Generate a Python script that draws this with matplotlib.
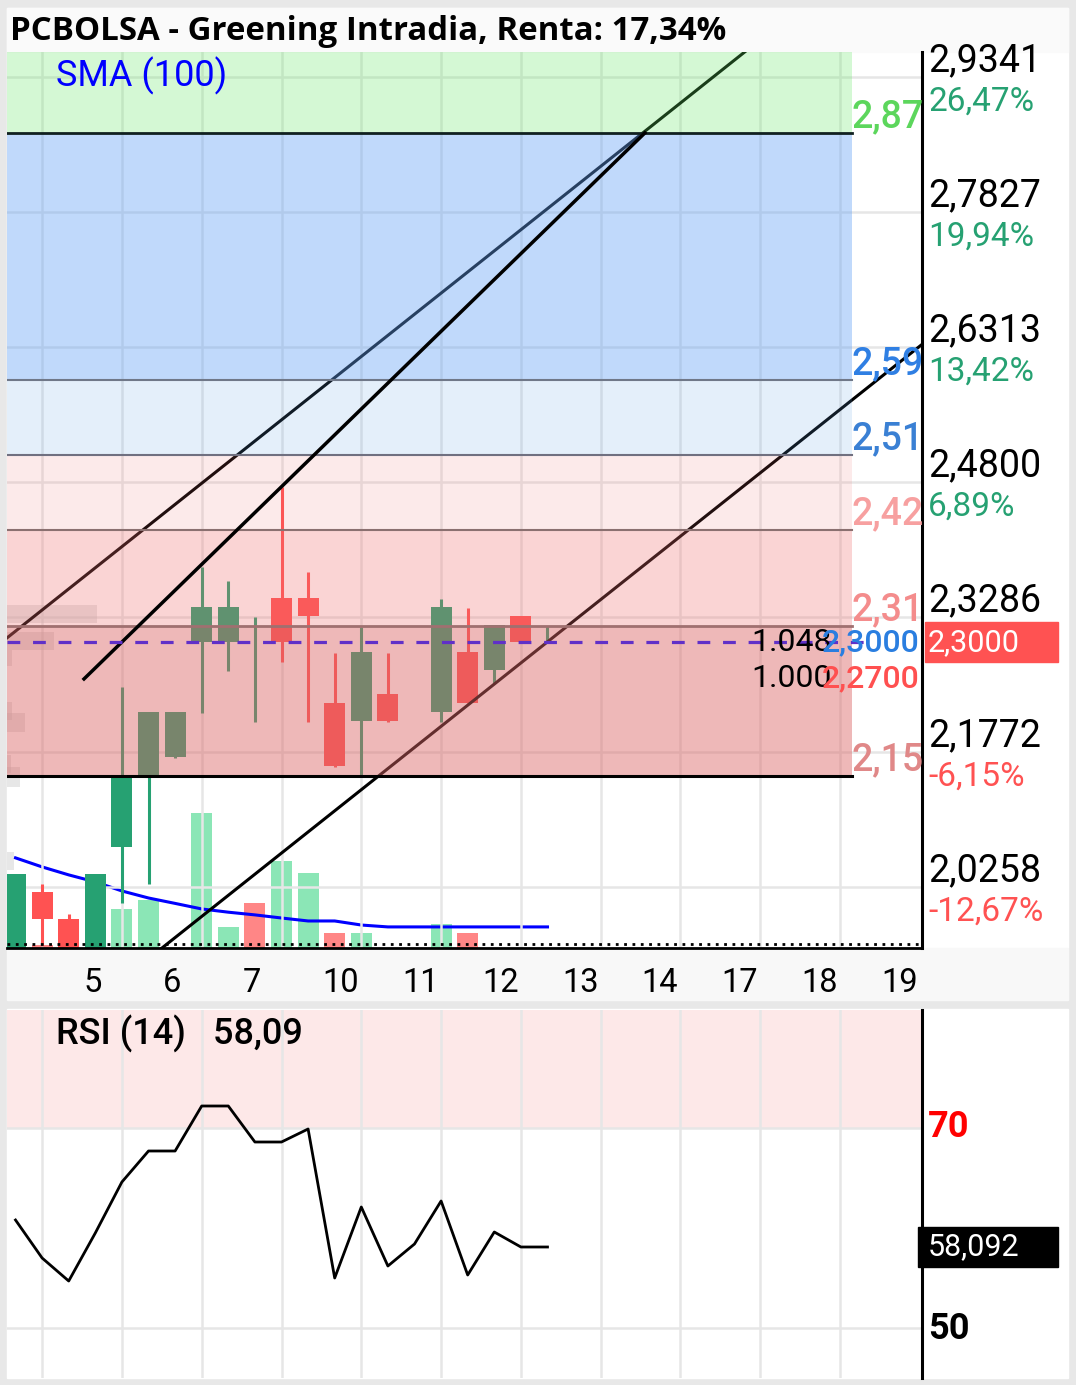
import numpy as np
import matplotlib
matplotlib.use("Agg")
import matplotlib.pyplot as plt
from matplotlib.patches import Rectangle
from matplotlib.transforms import blended_transform_factory

plt.rcParams["font.family"] = ["Roboto", "DejaVu Sans"]

W, H = 1076, 1385

# --- datos --------------------------------------------------------------
titulo = "PCBOLSA - Greening Intradia, Renta: 17,34%"
nan = np.nan
slots = np.arange(21)
opens = [1.940, 2.020, 1.990, 1.940, 2.071, 2.150, 2.172, 2.300, 2.300, 2.300, 2.350,
         2.350, 2.232, 2.212, 2.242, nan, 2.222, 2.289, 2.269, 2.330, 2.300]
highs = [2.040, 2.029, 1.996, 2.040, 2.250, 2.222, 2.222, 2.385, 2.369, 2.329, 2.474,
         2.379, 2.288, 2.317, 2.288, nan, 2.349, 2.339, 2.320, 2.330, 2.319]
lows = [1.930, 1.960, 1.950, 1.930, 2.008, 2.029, 2.171, 2.221, 2.268, 2.211, 2.278,
        2.211, 2.160, 2.150, 2.211, nan, 2.211, 2.232, 2.255, 2.300, 2.300]
closes = [2.040, 1.990, 1.955, 2.040, 2.149, 2.222, 2.222, 2.340, 2.340, 2.300, 2.300,
          2.330, 2.162, 2.289, 2.212, nan, 2.340, 2.232, 2.320, 2.300, 2.300]

volumen = [0, 22, 0, 0, 289, 356, 0, 1000, 156, 333, 644, 556, 111, 111, 0, 0, 178, 111, 0, 0, 0]
vol_sube = [1, 0, 1, 1, 1, 1, 1, 1, 1, 0, 1, 1, 0, 1, 1, 1, 1, 0, 1, 1, 1]
sma_vol = [667, 600, 541, 489, 422, 370, 330, 289, 265, 245, 222, 200, 200, 170,
           156, 156, 156, 156, 156, 156, 156]

rsi = [60.8, 57.0, 54.7, 59.5, 64.6, 67.7, 67.7, 72.2, 72.2, 68.6, 68.6, 69.9, 55.0,
       62.1, 56.2, 58.4, 62.7, 55.3, 59.6, 58.1, 58.1]

# perfil de volumen a la izquierda (precio bajo, precio alto, ancho)
perfil_lo = [2.322, 2.291, 2.274, 2.213, 2.200, 2.154, 2.138, 2.045]
perfil_hi = [2.342, 2.312, 2.291, 2.233, 2.221, 2.174, 2.160, 2.065]
perfil_w = [3.38, 1.77, 0.19, 0.19, 0.68, 0.15, 0.49, 0.26]

# zonas de objetivo / stop
niveles = [2.871, 2.594, 2.510, 2.426, 2.318, 2.150]
nivel_txt = ["2,87", "2,59", "2,51", "2,42", "2,31", "2,15"]
nivel_col = ["#5cd65c", "#2f7fe3", "#3a80d4", "#f7a0a0", "#f48c8c", "#e08888"]
zona_col = [(0.39, 0.90, 0.39), (0.39, 0.63, 0.96), (0.39, 0.63, 0.90),
            (0.94, 0.43, 0.43), (0.94, 0.43, 0.43), (0.86, 0.40, 0.40)]
zona_alpha = [0.27, 0.40, 0.17, 0.14, 0.29, 0.46]
linea_col = ["#102020", "#707888", "#707080", "#8a7070", "#a07070", "#000000"]
linea_lw = [2.0, 1.5, 1.5, 1.5, 2.0, 2.2]

# lineas de tendencia (slot, precio)
tend_a = ([-1.0, 28.0], [2.289, 2.976])
tend_b = ([2.575, 23.66], [2.2591, 2.8713])
tend_c = ([5.0, 35.0], [1.9454, 2.6560])

precio_actual = 2.30
precio_ticks = [2.9341, 2.7827, 2.6313, 2.4800, 2.3286, 2.1772, 2.0258]
pct_txt = ["26,47%", "19,94%", "13,42%", "6,89%", "", "-6,15%", "-12,67%"]
dias = ["5", "6", "7", "10", "11", "12", "13", "14", "17", "18", "19"]

VERDE, ROJO = "#26a172", "#ff5252"
VOL_VERDE, VOL_ROJO = "#85e5b2", "#ff8080"
GRID = "#e6e6e6"

XMIN, XMAX = -0.32, 34.08
YMIN, YMAX = 1.9574, 2.9621
ZONA_FIN = 31.45
grid_x = np.arange(1, 34, 3)
dias_x = 2.54 + 3 * np.arange(len(dias))


def fx(px):
    return px / W


def fy(py):
    return 1 - py / H


fig = plt.figure(figsize=(W / 100, H / 100), dpi=100, facecolor="#e8e8e8")
# fondos de los paneles
fig.patches.append(Rectangle((fx(7), fy(948)), fx(1061), 940 / H, transform=fig.transFigure,
                             color="white", zorder=-10))
fig.patches.append(Rectangle((fx(7), fy(52)), fx(1061), 44 / H, transform=fig.transFigure,
                             color="#fafafa", zorder=-9))
fig.patches.append(Rectangle((fx(7), fy(1000)), fx(1061), 52 / H, transform=fig.transFigure,
                             color="#f8f8f8", zorder=-10))
fig.patches.append(Rectangle((fx(7), fy(1378)), fx(1061), 369 / H, transform=fig.transFigure,
                             color="white", zorder=-10))

fig.text(fx(10), fy(31), titulo, fontsize=23.8, fontweight="bold", family=["Open Sans", "DejaVu Sans"],
         va="center", ha="left")

# --- panel de precio ------------------------------------------------------
ax = fig.add_axes([fx(7), fy(948), 915 / W, 896 / H])
ax_vol = ax.twinx()
ax.set_zorder(ax_vol.get_zorder() + 1)
ax.patch.set_visible(False)
ax_vol.patch.set_visible(False)

ax.set_xlim(XMIN, XMAX)
ax.set_ylim(YMIN, YMAX)
ax_vol.set_ylim(0, 6630)

# volumen
for k, v, up in zip(slots, volumen, vol_sube):
    if v > 0:
        ax_vol.bar(k, v, width=0.79, color=VOL_VERDE if up else VOL_ROJO, alpha=0.95, zorder=1)
ax_vol.plot(slots, sma_vol, color="#0000ff", lw=2.2, zorder=3)
ax_vol.set_yticks([])
for s in ax_vol.spines.values():
    s.set_visible(False)

ax.set_axisbelow(True)
ax.set_yticks(precio_ticks)
ax.set_xticks(grid_x)
ax.grid(True, which="major", color=GRID, lw=1.8)
ax.set_xticks(dias_x, labels=dias, minor=True)
ax.tick_params(which="both", length=0, labelleft=False, labelright=False)
ax.tick_params(which="major", labelbottom=False)
ax.tick_params(which="minor", labelsize=23.5, pad=14)
for lab in ax.get_xticklabels(minor=True):
    lab.set_horizontalalignment("left")
for nombre in ["top", "left"]:
    ax.spines[nombre].set_visible(False)
ax.spines["right"].set_linewidth(2.2)
ax.spines["bottom"].set_linewidth(2.0)
ax.plot([0, 1], [0.004, 0.004], transform=ax.transAxes, color="black", lw=2.0,
        ls=(0, (1, 2)), clip_on=False, zorder=6)

# perfil de volumen
ax.barh([(a + b) / 2 for a, b in zip(perfil_lo, perfil_hi)],
        perfil_w, height=[b - a for a, b in zip(perfil_lo, perfil_hi)],
        left=XMIN, color="#c4c4c4", alpha=0.4, zorder=1)

# velas
for k, o, h, l, c in zip(slots, opens, highs, lows, closes):
    if np.isnan(o):
        continue
    col = VERDE if c >= o else ROJO
    ax.vlines(k, l, h, color=col, lw=2.2, zorder=2)
    ax.bar(k, max(abs(c - o), 0.0006), bottom=min(o, c), width=0.79, color=col, zorder=2)

ax.plot(*tend_a, color="black", lw=2.2, zorder=2)
ax.plot(*tend_c, color="black", lw=2.2, zorder=2)

# zonas (se pintan encima con transparencia)
techos = [YMAX] + niveles[:-1]
for top, bot, col, a in zip(techos, niveles, zona_col, zona_alpha):
    ax.fill_between([XMIN, ZONA_FIN], bot, top, color=col, alpha=a, lw=0, zorder=3)
for lv, col, lw in zip(niveles, linea_col, linea_lw):
    ax.plot([XMIN, ZONA_FIN], [lv, lv], color=col, lw=lw, zorder=4)
for lv, txt, col in zip(niveles, nivel_txt, nivel_col):
    ax.annotate(txt, xy=(ZONA_FIN, lv), xytext=(-1, 6), textcoords="offset pixels",
                fontsize=27, fontweight="medium", color=col, ha="left", va="baseline", zorder=5)

ax.plot(*tend_b, color="black", lw=2.5, zorder=4)
ax.plot([XMIN, 32.2], [precio_actual] * 2, color="#6030c8", lw=2.3, ls=(0, (4.0, 4.0)), zorder=4)

ax.annotate("1.048", xy=(30.7, precio_actual), xytext=(0, 0), textcoords="offset pixels",
            fontsize=23, ha="right", va="center", zorder=6)
ax.annotate("1.000", xy=(30.7, precio_actual), xytext=(0, -36), textcoords="offset pixels",
            fontsize=23, ha="right", va="center", zorder=6)
ax.annotate("2,3000", xy=(34.0, precio_actual), xytext=(0, 0), textcoords="offset pixels",
            fontsize=23, fontweight="medium", color="#2a7ee0", ha="right", va="center", zorder=6)
ax.annotate("2,2700", xy=(34.0, precio_actual), xytext=(0, -36), textcoords="offset pixels",
            fontsize=23, fontweight="medium", color="#ff5050", ha="right", va="center", zorder=6)

ax.text((56 - 7) / 915, (948 - 76) / 896, "SMA (100)", transform=ax.transAxes,
        fontsize=26, color="#0000ff", va="center", ha="left", zorder=6)

# eje derecho de precios
for p, pct in zip(precio_ticks, pct_txt):
    ax.annotate(f"{p:.4f}".replace(".", ","), xy=(1, p), xycoords=("axes fraction", "data"),
                xytext=(6, 6), textcoords="offset pixels", fontsize=27,
                ha="left", va="baseline", annotation_clip=False)
    if pct:
        ax.annotate(pct, xy=(1, p), xycoords=("axes fraction", "data"),
                    xytext=(6, -9), textcoords="offset pixels", fontsize=24,
                    color=ROJO if pct.startswith("-") else VERDE,
                    ha="left", va="top", annotation_clip=False)

tr = blended_transform_factory(ax.transAxes, ax.transData)
ax.add_patch(Rectangle((1.0033, precio_actual - 0.0224), 0.1454, 0.0448, transform=tr,
                       color="#ff5252", clip_on=False, zorder=7))
ax.annotate("2,3000", xy=(1, precio_actual), xycoords=("axes fraction", "data"),
            xytext=(6, 0), textcoords="offset pixels", fontsize=22, color="white",
            ha="left", va="center", annotation_clip=False, zorder=8)

# --- panel RSI ------------------------------------------------------------
ax_r = fig.add_axes([fx(7), fy(1378), 915 / W, 368 / H])
ax_r.set_xlim(XMIN, XMAX)
ax_r.set_ylim(45, 81.8)
ax_r.patch.set_visible(False)
ax_r.axhspan(70, 81.8, color="#fde8e8", lw=0, zorder=0)
ax_r.set_axisbelow(True)
ax_r.set_xticks(grid_x)
ax_r.set_yticks([50, 70])
ax_r.grid(True, color=GRID, lw=1.8)
ax_r.tick_params(length=0, labelleft=False, labelbottom=False)
for nombre in ["top", "left", "bottom"]:
    ax_r.spines[nombre].set_visible(False)
ax_r.spines["right"].set_linewidth(2.2)
ax_r.plot(slots, rsi, color="black", lw=2.0, zorder=3)

ax_r.text((56 - 7) / 915, (1378 - 1034) / 368, "RSI (14)   58,09", transform=ax_r.transAxes,
          fontsize=26, fontweight="medium", va="center", ha="left")
ax_r.annotate("70", xy=(1, 70), xycoords=("axes fraction", "data"), xytext=(6, 1),
              textcoords="offset pixels", fontsize=26, fontweight="bold", color="#ff0000",
              ha="left", va="center", annotation_clip=False)
ax_r.annotate("50", xy=(1, 50), xycoords=("axes fraction", "data"), xytext=(6, -1),
              textcoords="offset pixels", fontsize=26, fontweight="bold", color="black",
              ha="left", va="center", annotation_clip=False)
tr_r = blended_transform_factory(ax_r.transAxes, ax_r.transData)
ax_r.add_patch(Rectangle((0.9956, rsi[-1] - 2.0), 0.153, 4.0, transform=tr_r,
                         color="black", clip_on=False, zorder=7))
ax_r.annotate("58,092", xy=(1, rsi[-1]), xycoords=("axes fraction", "data"), xytext=(6, 0),
              textcoords="offset pixels", fontsize=22, color="white", ha="left", va="center",
              annotation_clip=False, zorder=8)

fig.savefig("out.png", dpi=100, facecolor=fig.get_facecolor())
